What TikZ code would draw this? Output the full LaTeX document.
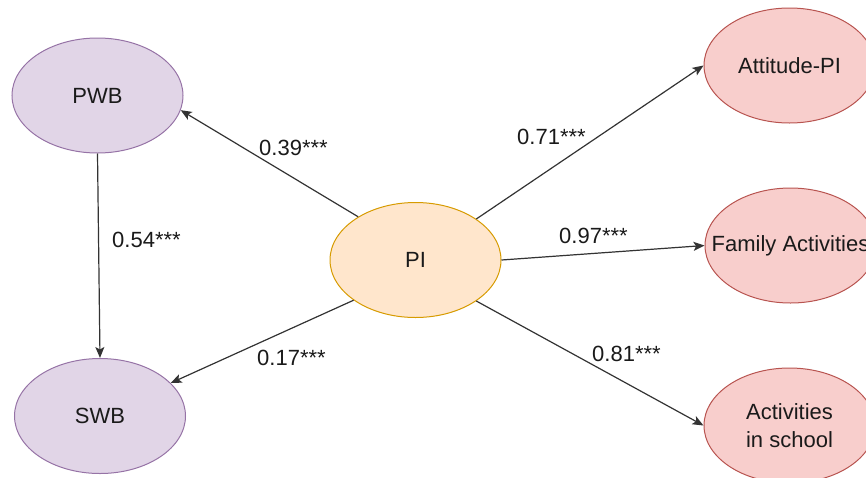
\documentclass[tikz,border=0pt]{standalone}
\usepackage{fontspec}
\setmainfont{Liberation Sans}
\usetikzlibrary{shapes.geometric,arrows.meta}
\definecolor{purfill}{HTML}{E1D5E7}
\definecolor{purline}{HTML}{9673A6}
\definecolor{orfill}{HTML}{FFE6CC}
\definecolor{orline}{HTML}{D79B00}
\definecolor{redfill}{HTML}{F8CECC}
\definecolor{redline}{HTML}{B85450}
\definecolor{edgecol}{HTML}{333333}
\definecolor{txtcol}{HTML}{1A1A1A}
\tikzset{
  latent/.style={ellipse, minimum width=171pt, minimum height=115pt, inner sep=0pt, line width=1pt, text=txtcol, font=\fontsize{22}{28}\selectfont, align=center},
  purp/.style={latent, draw=purline, fill=purfill},
  oran/.style={latent, draw=orline, fill=orfill},
  redd/.style={latent, draw=redline, fill=redfill},
  conn/.style={draw=edgecol, line width=1.2pt, -{Stealth[length=11pt,width=9pt,inset=2.5pt]}},
  coef/.style={anchor=base west, inner sep=0pt, text=txtcol, font=\fontsize{22}{26}\selectfont}
}
\begin{document}
\begin{tikzpicture}[x=1pt,y=-1pt]
\useasboundingbox (0,0) rectangle (866,477);
\node[purp] (pwb) at (97.5,95.5) {PWB};
\node[purp] (swb) at (100,416) {SWB};
\node[oran] (pi) at (415.5,260) {PI};
\node[redd] (att) at (789.5,65.5) {Attitude-PI};
\node[redd] (fam) at (790.5,245.5) {\makebox[0pt]{Family Activities}};
\node[redd] (sch) at (789.5,425.5) {Activities\\in school};

\draw[conn] (pi.143) -- (pwb.-10);
\draw[conn] (pwb.south) -- (swb.north);
\draw[conn] (pi.213) -- (swb.25);
\draw[conn] (pi.34) -- (att.west);
\draw[conn] (pi.east) -- (fam.west);
\draw[conn] (pi.-34) -- (sch.west);

\node[coef] (l39) at (259,155) {0.39***};
\node[coef] (l54) at (112,247) {0.54***};
\node[coef] (l17) at (257,365) {0.17***};
\node[coef] (l71) at (517,144) {0.71***};
\node[coef] (l97) at (559,243) {0.97***};
\node[coef] (l81) at (592,361) {0.81***};
\end{tikzpicture}
\end{document}
